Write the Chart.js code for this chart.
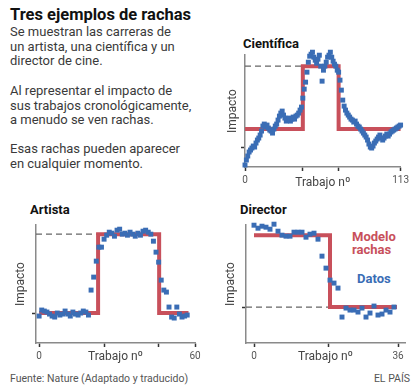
<!DOCTYPE html>
<html lang="es">
<head>
<meta charset="utf-8">
<title>Tres ejemplos de rachas</title>
<script src="https://cdn.jsdelivr.net/npm/chart.js@4.4.1/dist/chart.umd.min.js"></script>
<style>
  html, body { margin: 0; padding: 0; background: #fff; }
  body { width: 414px; height: 392px; position: relative; overflow: hidden; font-family: Roboto, sans-serif; color: #333; }
  .txt { position: absolute; white-space: nowrap; }
  canvas { position: absolute; }
  #titulo { left: 10px; top: 5px; font-size: 16.5px; line-height: 20px; font-weight: 700; color: #111; }
  .cuerpo { left: 10px; font-size: 13px; line-height: 14.3px; color: #3a3a3a; }
  .panel { font-size: 13px; line-height: 15px; font-weight: 700; color: #111; }
  .leyenda { font-size: 13px; line-height: 13px; font-weight: 700; }
  .pie { top: 373px; font-size: 10.5px; line-height: 12px; color: #555; }
</style>
</head>
<body>
<div id="titulo" class="txt">Tres ejemplos de rachas</div>
<div class="txt cuerpo" style="top:25.4px">Se muestran las carreras de<br>un artista, una científica y un<br>director de cine.</div>
<div class="txt cuerpo" style="top:84.4px">Al representar el impacto de<br>sus trabajos cronológicamente,<br>a menudo se ven rachas.</div>
<div class="txt cuerpo" style="top:142.4px">Esas rachas pueden aparecer<br>en cualquier momento.</div>

<div class="txt panel" style="left:243px; top:36px">Científica</div>
<div class="txt panel" style="left:30px; top:202px">Artista</div>
<div class="txt panel" style="left:240px; top:202px">Director</div>

<div class="txt leyenda" style="left:352px; top:230px; color:#c8505b">Modelo<br>rachas</div>
<div class="txt leyenda" style="left:357px; top:272px; color:#3a6db5">Datos</div>

<div class="txt pie" style="left:10px">Fuente: Nature (Adaptado y traducido)</div>
<div class="txt pie" style="right:4px">EL PAÍS</div>

<canvas id="cientifica" width="190" height="145" style="left:222px; top:45px"></canvas>
<canvas id="artista" width="205" height="150" style="left:0px; top:215px"></canvas>
<canvas id="director" width="204" height="150" style="left:210px; top:215px"></canvas>

<script>
// Impacto de cada trabajo (eje x = número de trabajo)
const cientificaImpacto = [2, 7, 11, 15, 17, 19, 21, 20, 24, 27, 29,
  32, 36, 41, 43, 40, 42, 39, 37, 36, 34, 38, 41, 43, 47, 51, 54, 56, 52, 49, 46,
  47, 49, 46, 48, 50, 48, 51, 52, 54, 57, 60,
  69, 78, 85, 95, 105, 111, 113, 115, 110, 107, 104, 108, 112, 101, 86, 97, 101, 105,
  110, 112, 115, 110, 106, 103, 101, 97, 95,
  87, 77, 67, 61, 57, 54, 52, 50, 48, 47, 45, 46, 43, 41, 40, 38, 36, 34, 32, 30,
  27, 23, 20, 19, 21, 24, 26, 28, 30, 32, 29, 27, 29, 31, 33, 31, 33, 35, 36, 37,
  38, 39, 40, 41, 42];
const artistaImpacto = [27, 33, 32, 31, 29, 27, 26, 30, 28, 29, 32, 29, 27, 31, 29, 28, 30, 32, 31, 28,
  53, 66, 82, 96, 96, 104,
  108, 111, 110, 107, 113, 114, 109, 110, 108, 111, 109, 107, 110, 108, 112, 113, 111, 109,
  102, 91, 81, 63, 53, 51, 36, 26, 25, 36, 29, 26, 27, 28];
const directorImpacto = [118, 115, 117, 116, 114, 119, 112, 108, 107, 107, 111, 111, 111, 106, 109, 110, 104,
  87, 75, 63, 60, 55,
  26, 35, 33, 33, 31, 35, 26, 30, 37, 28, 29, 33, 31, 36];

// Modelo de rachas: puntos de cambio y niveles
const cientificaCambios = [42, 68];
const cientificaNiveles = [38, 101, 38];
const artistaCambios = [22.7, 46.2];
const artistaNiveles = [30, 109, 30];
const directorCambios = [19];
const directorNiveles = [108, 36];

// Marcas y etiquetas de los ejes
const cientificaTicksX = [0, 42, 68, 113];
const cientificaEtiquetasX = ['0', '', '', '113'];
const artistaTicksX = [0, 25, 46, 60];
const artistaEtiquetasX = ['0', '', '', '60'];
const directorTicksX = [0, 18.5, 36];
const directorEtiquetasX = ['0', '', '36'];

const AZUL = '#3a6db5';
const ROJO = '#c8505b';

function stepLine(start, end, cambios, niveles) {
  const pts = [{ x: start, y: niveles[0] }];
  cambios.forEach((c, i) => {
    pts.push({ x: c, y: niveles[i] });
    pts.push({ x: c, y: niveles[i + 1] });
  });
  pts.push({ x: end, y: niveles[niveles.length - 1] });
  return pts;
}

function makeChart(id, cfg) {
  const ctx = document.getElementById(id).getContext('2d');
  return new Chart(ctx, {
    type: 'scatter',
    data: {
      datasets: [
        {
          data: cfg.impacto.map((y, i) => ({ x: i, y })),
          pointStyle: 'rect',
          pointRadius: 3.5,
          pointBorderWidth: 0,
          backgroundColor: AZUL,
          clip: false,
          order: 0,
        },
        {
          data: stepLine(cfg.inicio, cfg.fin, cfg.cambios, cfg.niveles),
          showLine: true,
          borderColor: ROJO,
          borderWidth: 4,
          borderJoinStyle: 'miter',
          pointRadius: 0,
          clip: false,
          order: 1,
        },
        {
          data: [{ x: cfg.xMin, y: cfg.discontinua }, { x: cfg.finDiscontinua, y: cfg.discontinua }],
          showLine: true,
          borderColor: '#666',
          borderWidth: 1.2,
          borderDash: [6, 4],
          pointRadius: 0,
          order: 2,
        },
      ],
    },
    options: {
      responsive: false,
      animation: false,
      devicePixelRatio: 1,
      layout: { padding: cfg.padding },
      plugins: { legend: { display: false }, tooltip: { enabled: false } },
      scales: {
        x: {
          type: 'linear',
          min: cfg.xMin,
          max: cfg.xMax,
          afterBuildTicks: (s) => { s.ticks = cfg.ticksX.map((v) => ({ value: v })); },
          afterFit: (s) => { s.height = cfg.altoX; },
          ticks: {
            autoSkip: false,
            maxRotation: 0,
            padding: 3,
            color: '#555',
            font: { size: 10, family: 'Roboto' },
            callback: (v, i) => cfg.etiquetasX[i],
          },
          grid: { drawOnChartArea: false, drawTicks: true, tickLength: 4, tickColor: '#333', tickWidth: 1.5 },
          border: { display: true, color: '#8a8a8a', width: 1.5 },
          title: { display: true, text: 'Trabajo nº', color: '#444', font: { size: 12, family: 'Roboto' }, padding: 0 },
        },
        y: {
          type: 'linear',
          min: 0,
          max: cfg.yMax,
          afterBuildTicks: (s) => { s.ticks = [{ value: cfg.tickY }]; },
          afterFit: (s) => { s.width = cfg.anchoY; },
          ticks: { callback: () => '' },
          grid: { drawOnChartArea: false, drawTicks: true, tickLength: 4, tickColor: '#333', tickWidth: 1.5 },
          border: { display: true, color: '#8a8a8a', width: 1.5 },
          title: { display: true, text: 'Impacto', color: '#444', font: { size: 12, family: 'Roboto' }, padding: 0 },
        },
      },
    },
  });
}

makeChart('cientifica', {
  impacto: cientificaImpacto,
  cambios: cientificaCambios,
  niveles: cientificaNiveles,
  inicio: 0, fin: 113,
  discontinua: 101, finDiscontinua: 42,
  xMin: 0, xMax: 113, yMax: 112,
  ticksX: cientificaTicksX, etiquetasX: cientificaEtiquetasX, tickY: 20,
  padding: { left: 4, right: 10, top: 10, bottom: 0 },
  anchoY: 19, altoX: 23,
});

makeChart('artista', {
  impacto: artistaImpacto,
  cambios: artistaCambios,
  niveles: artistaNiveles,
  inicio: 0, fin: 57.5,
  discontinua: 109, finDiscontinua: 22.7,
  xMin: -1.2, xMax: 60, yMax: 118,
  ticksX: artistaTicksX, etiquetasX: artistaEtiquetasX, tickY: 30,
  padding: { left: 13.8, right: 10, top: 10, bottom: 0.8 },
  anchoY: 22.2, altoX: 21.2,
});

makeChart('director', {
  impacto: directorImpacto,
  cambios: directorCambios,
  niveles: directorNiveles,
  inicio: 0, fin: 35.75,
  discontinua: 36, finDiscontinua: 19,
  xMin: -2, xMax: 37.75, yMax: 118,
  ticksX: directorTicksX, etiquetasX: directorEtiquetasX, tickY: 36,
  padding: { left: 13.8, right: 9, top: 10, bottom: 0.8 },
  anchoY: 22.2, altoX: 21.2,
});
</script>
</body>
</html>
